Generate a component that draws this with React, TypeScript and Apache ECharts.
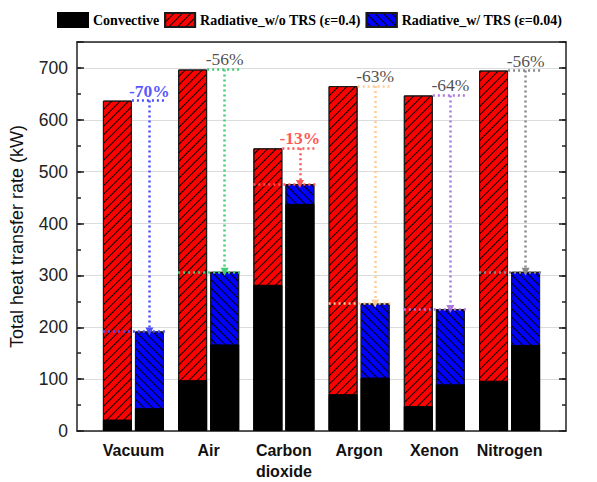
import { useEffect, useRef } from "react";
import * as echarts from "echarts";

// Gas cases along the x axis
const categories = ["Vacuum", "Air", "Carbon\ndioxide", "Argon", "Xenon", "Nitrogen"];

// Heat transfer components (kW)
const convectiveWithout = [22, 98, 282, 71, 48, 97];
const radiativeWithout = [615, 599, 263, 594, 599, 598];
const convectiveWith = [44, 167, 438, 103, 90, 166];
const radiativeWith = [148, 140, 38, 143, 145, 141];

// Reduction annotation styling per gas
const arrowColors = ["#4d4dff", "#44cc77", "#ff5555", "#ffcc99", "#aa77dd", "#888888"];
const pctColors = ["#2a2aff", "#222222", "#ff2a2a", "#222222", "#222222", "#222222"];
const pctBold = [true, false, true, false, false, false];

const SERIES_CONV = "Convective";
const SERIES_WO = "Radiative_w/o TRS (ε=0.4)";
const SERIES_W = "Radiative_w/ TRS (ε=0.04)";

const SANS = "'Liberation Sans', Arial, sans-serif";
const SERIF = "'Liberation Serif', 'Times New Roman', serif";

// half distance between the paired bar centres, and half bar width (x units)
const OFFSET = 0.213;
const HALF = 0.193;

export default function App() {
  const ref = useRef<HTMLDivElement>(null);

  useEffect(() => {
    if (!ref.current) return;
    const chart = echarts.init(ref.current, undefined, { renderer: "svg" });

    const xs = categories.map((_, i) => i + 1);
    const leftX = xs.map((x) => x - OFFSET);
    const rightX = xs.map((x) => x + OFFSET);
    const totalWithout = convectiveWithout.map((v, i) => v + radiativeWithout[i]);
    const totalWith = convectiveWith.map((v, i) => v + radiativeWith[i]);

    const axisColor = "#222";
    // Each column is drawn as the full total (radiative colour) with the
    // convective part laid over its lower portion.
    const barBase = {
      type: "bar" as const,
      barWidth: 29,
      barGap: "-100%",
      xAxisIndex: 0,
      yAxisIndex: 0,
      silent: true,
    };

    const markLines: any[] = [];
    categories.forEach((_, i) => {
      const ls = { color: arrowColors[i], type: [2, 3], width: 2.5, cap: "butt" };
      markLines.push([
        { coord: [leftX[i] + HALF, totalWithout[i]], lineStyle: ls, symbol: "none" },
        { coord: [rightX[i] + HALF + 0.04, totalWithout[i]], symbol: "none" },
      ]);
      markLines.push([
        { coord: [rightX[i], totalWithout[i]], lineStyle: ls, symbol: "none" },
        { coord: [rightX[i], totalWith[i]], symbol: "triangle" },
      ]);
      markLines.push([
        { coord: [leftX[i] - HALF, totalWith[i]], lineStyle: ls, symbol: "none" },
        { coord: [rightX[i] + HALF + 0.02, totalWith[i]], symbol: "none" },
      ]);
    });

    // "////" hatching on the red columns, "\\\\" on the blue ones
    const hatchUp = {
      symbol: "rect",
      symbolSize: 1,
      color: "#000",
      dashArrayX: [1, 0],
      dashArrayY: [0.9, 4.4],
      rotation: -Math.PI / 4,
    };
    const hatchDown = { ...hatchUp, rotation: Math.PI / 4 };

    const yCommon = {
      type: "value" as const,
      min: 0,
      max: 750,
      splitLine: { show: false },
      axisLabel: { show: false },
    };

    chart.setOption({
      animation: false,
      backgroundColor: "#fff",
      legend: {
        left: 57,
        top: 12,
        padding: 0,
        itemWidth: 30,
        itemHeight: 14,
        itemGap: 5,
        icon: "rect",
        data: [SERIES_CONV, SERIES_WO, SERIES_W],
        textStyle: { fontFamily: SERIF, fontWeight: "bold", fontSize: 14, color: "#000" },
      },
      grid: { left: 77, right: 31, top: 42, bottom: 47 },
      xAxis: [
        {
          type: "value",
          min: 0.25,
          max: 6.75,
          position: "bottom",
          axisLine: { show: true, onZero: false, lineStyle: { color: axisColor, width: 1.5 } },
          axisTick: { show: false },
          splitLine: { show: false },
          axisLabel: {
            customValues: xs,
            formatter: (v: number) => categories[Math.round(v) - 1] ?? "",
            fontFamily: SANS,
            fontWeight: "bold",
            fontSize: 16,
            color: "#111",
            margin: 9,
            lineHeight: 21,
          },
        },
        {
          type: "value",
          min: 0.25,
          max: 6.75,
          position: "top",
          axisLine: { show: true, onZero: false, lineStyle: { color: axisColor, width: 1.5 } },
          axisTick: { show: false },
          splitLine: { show: false },
          axisLabel: { show: false },
        },
      ],
      yAxis: [
        {
          ...yCommon,
          interval: 100,
          position: "left",
          name: "Total heat transfer rate (kW)",
          nameLocation: "middle",
          nameGap: 51,
          nameTextStyle: { fontFamily: SANS, fontSize: 18, color: "#111" },
          axisLine: { show: true, lineStyle: { color: axisColor, width: 1.5 } },
          axisTick: { show: true, inside: true, length: 7, lineStyle: { color: axisColor, width: 1.5 } },
          splitLine: { show: true, lineStyle: { color: "#dcdcdc", width: 1.2 } },
          axisLabel: {
            show: true,
            formatter: (v: number) => (v % 100 === 0 ? String(v) : ""),
            fontFamily: SANS,
            fontSize: 17.5,
            color: "#222",
            margin: 9,
          },
        },
        {
          ...yCommon,
          interval: 50,
          position: "left",
          axisLine: { show: false },
          axisTick: { show: true, inside: true, length: 4, lineStyle: { color: axisColor, width: 1.5 } },
        },
        {
          ...yCommon,
          interval: 100,
          position: "right",
          axisLine: { show: true, lineStyle: { color: axisColor, width: 1.5 } },
          axisTick: { show: true, inside: true, length: 7, lineStyle: { color: axisColor, width: 1.5 } },
        },
        {
          ...yCommon,
          interval: 50,
          position: "right",
          axisLine: { show: false },
          axisTick: { show: true, inside: true, length: 4, lineStyle: { color: axisColor, width: 1.5 } },
        },
      ],
      series: [
        {
          ...barBase,
          name: SERIES_WO,
          z: 2,
          data: leftX.map((x, i) => [x, totalWithout[i]]),
          itemStyle: { color: "#ff0000", borderColor: "#1a1a1a", borderWidth: 1, decal: hatchUp },
        },
        {
          ...barBase,
          name: SERIES_W,
          z: 2,
          data: rightX.map((x, i) => [x, totalWith[i]]),
          itemStyle: { color: "#0000ff", borderColor: "#1a1a1a", borderWidth: 1, decal: hatchDown },
          markLine: {
            silent: true,
            z: 10,
            symbol: ["none", "none"],
            symbolSize: 8,
            label: { show: false },
            emphasis: { disabled: true },
            data: markLines,
          },
        },
        {
          ...barBase,
          name: SERIES_CONV,
          z: 3,
          data: leftX.map((x, i) => [x, convectiveWithout[i]]),
          itemStyle: { color: "#000", borderColor: "#000", borderWidth: 1 },
        },
        {
          ...barBase,
          name: SERIES_CONV,
          z: 3,
          data: rightX.map((x, i) => [x, convectiveWith[i]]),
          itemStyle: { color: "#000", borderColor: "#000", borderWidth: 1 },
        },
        {
          type: "scatter",
          name: "reduction",
          silent: true,
          symbolSize: 0,
          z: 10,
          data: categories.map((_, i) => ({
            value: [rightX[i], totalWithout[i]],
            label: {
              color: pctColors[i],
              fontWeight: pctBold[i] ? "bold" : "normal",
            },
          })),
          label: {
            show: true,
            position: "top",
            distance: 1,
            fontFamily: SERIF,
            fontSize: 17.5,
            formatter: (p: any) => {
              const i = p.dataIndex;
              const pct = Math.round(((totalWith[i] - totalWithout[i]) / totalWithout[i]) * 100);
              return `${pct}%`;
            },
          },
        },
      ],
    });

    return () => chart.dispose();
  }, []);

  return (
    <div
      ref={ref}
      style={{ position: "fixed", left: 0, top: 0, width: 597, height: 482, background: "#fff" }}
    />
  );
}
